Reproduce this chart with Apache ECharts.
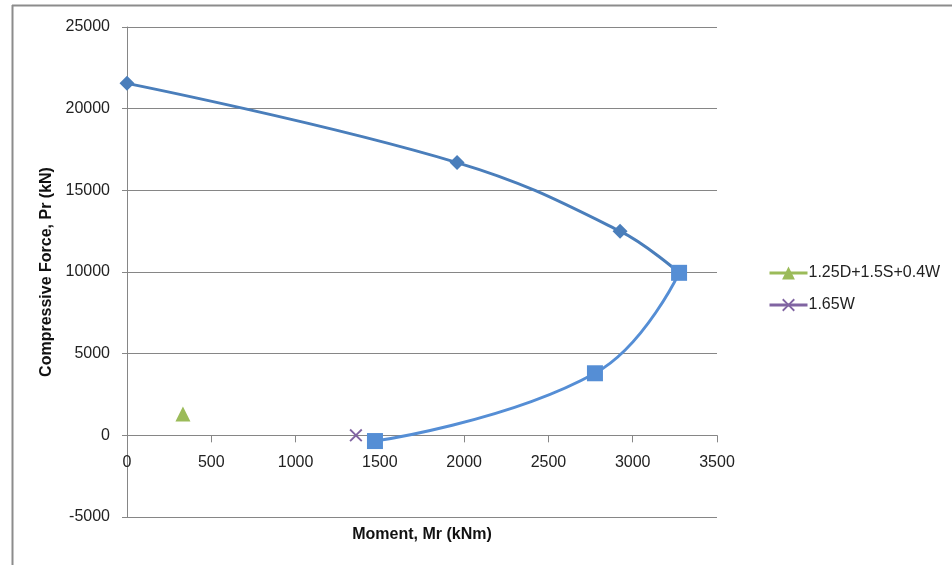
<!DOCTYPE html>
<html>
<head>
<meta charset="utf-8">
<script src="https://cdn.jsdelivr.net/npm/echarts@6/dist/echarts.min.js"></script>
<style>html,body{margin:0;padding:0;background:#fff;}#c{width:952px;height:565px;}</style>
</head>
<body>
<div id="c"></div>
<script>
// Interaction curve, upper branch (diamonds)
const upperMoment = [0, 1958, 2925, 3275];
const upperForce = [21550, 16700, 12500, 9950];
// Interaction curve, lower branch (squares)
const lowerMoment = [3275, 2776, 1471];
const lowerForce = [9950, 3800, -350];
// Load combinations
const loadNames = ['1.25D+1.5S+0.4W', '1.65W'];
const loadMoment = [332, 1358];
const loadForce = [1300, 0];
const xTicks = {min: 0, max: 3500, interval: 500};
const yTicks = {min: -5000, max: 25000, interval: 5000};

const FONT = 'Liberation Sans';
const AX = '#868686';
const pair = (xs, ys) => xs.map((x, i) => [x, ys[i]]);
const xShape = 'path://M0,1L1,0L5,4L9,0L10,1L6,5L10,9L9,10L5,6L1,10L0,9L4,5Z';
const plain = v => String(v);

const chart = echarts.init(document.getElementById('c'));
chart.setOption({
  animation: false,
  backgroundColor: '#fff',
  textStyle: {fontFamily: FONT},
  graphic: [
    {type: 'line', shape: {x1: 12, y1: 5.5, x2: 952, y2: 5.5}, style: {stroke: '#8c8c8c', lineWidth: 2}},
    {type: 'line', shape: {x1: 12.5, y1: 5, x2: 12.5, y2: 565}, style: {stroke: '#8c8c8c', lineWidth: 2}}
  ],
  grid: {left: 127, right: 235, top: 27, bottom: 48, containLabel: false, outerBoundsMode: 'none'},
  legend: {
    orient: 'vertical', left: 763, top: 260, itemGap: 16,
    itemWidth: 38, itemHeight: 16,
    data: loadNames,
    lineStyle: {width: 3},
    textStyle: {fontFamily: FONT, fontSize: 16, color: '#222', padding: [0, 0, 0, -4]}
  },
  xAxis: {
    type: 'value', min: xTicks.min, max: xTicks.max, interval: xTicks.interval,
    name: 'Moment, Mr (kNm)', nameLocation: 'middle', nameGap: 10,
    nameTextStyle: {fontFamily: FONT, fontSize: 16, fontWeight: 'bold', color: '#111'},
    axisLine: {show: true, onZero: true, lineStyle: {color: AX, width: 1}},
    axisTick: {show: true, length: 7, lineStyle: {color: AX}},
    axisLabel: {fontFamily: FONT, fontSize: 16, color: '#222', margin: -62, formatter: plain},
    splitLine: {show: false}
  },
  yAxis: {
    type: 'value', min: yTicks.min, max: yTicks.max, interval: yTicks.interval,
    name: 'Compressive Force, Pr (kN)', nameLocation: 'middle', nameGap: 80,
    nameTextStyle: {fontFamily: FONT, fontSize: 16, fontWeight: 'bold', color: '#111', verticalAlign: 'middle'},
    axisLine: {show: true, onZero: false, lineStyle: {color: AX, width: 1}},
    axisTick: {show: true, length: 5, lineStyle: {color: AX}},
    axisLabel: {fontFamily: FONT, fontSize: 16, color: '#222', margin: 17, formatter: plain},
    splitLine: {show: true, lineStyle: {color: AX, width: 1}}
  },
  series: [
    {
      name: 'upper', type: 'line', smooth: 0.4, z: 3,
      data: pair(upperMoment, upperForce).map((p, i) => i === upperMoment.length - 1 ? {value: p, symbol: 'none'} : p),
      symbol: 'diamond', symbolSize: 15,
      lineStyle: {color: '#4a7ebb', width: 3},
      itemStyle: {color: '#4a7ebb'}
    },
    {
      name: 'lower', type: 'line', smooth: 0.45, z: 4,
      data: pair(lowerMoment, lowerForce),
      symbol: 'rect', symbolSize: 16,
      lineStyle: {color: '#558ed5', width: 3},
      itemStyle: {color: '#558ed5'}
    },
    {
      name: loadNames[0], type: 'line', z: 5,
      data: [[loadMoment[0], loadForce[0]]],
      symbol: 'triangle', symbolSize: 15,
      lineStyle: {color: '#9bbb59', width: 3},
      itemStyle: {color: '#9bbb59'}
    },
    {
      name: loadNames[1], type: 'line', z: 5,
      data: [[loadMoment[1], loadForce[1]]],
      symbol: xShape, symbolSize: 13,
      lineStyle: {color: '#8064a2', width: 3},
      itemStyle: {color: '#8064a2'}
    }
  ]
});
</script>
</body>
</html>
